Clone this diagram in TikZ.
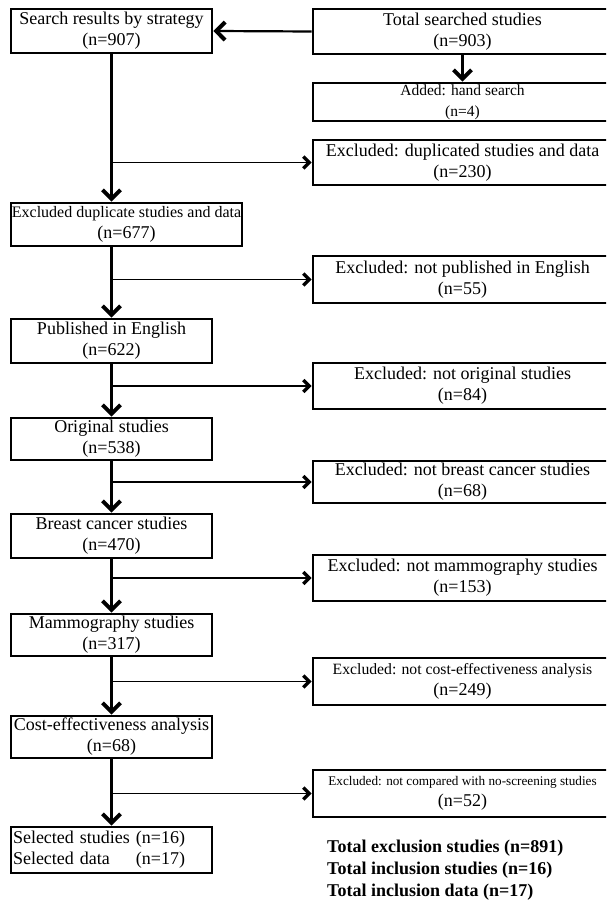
\documentclass[tikz,border=0pt]{standalone}
\usepackage{fontspec}
\setmainfont{Liberation Serif}
\usetikzlibrary{arrows.meta}
\tikzset{
  box/.style={draw, line width=2.6pt, inner sep=0pt, align=center, font=\fontsize{18}{21}\selectfont},
  lbox/.style={box, minimum width=201pt},
  rbox/.style={box, minimum width=299pt},
  mainarr/.style={line width=2.2pt, -{Straight Barb[length=9pt,width=18pt,line width=4pt 0]}},
  sidearr/.style={line width=1.6pt, -{Straight Barb[length=6pt,width=12pt,line width=3.4pt 0]}}
}
\begin{document}
\begin{tikzpicture}[x=1pt,y=-1pt]
\useasboundingbox (0,0) rectangle (606,901);
\clip (0,0) rectangle (606,901);
% left column
\node[lbox, minimum height=44pt] (s1) at (111.5,31) {Search results by strategy\\(n=907)};
\node[box, minimum width=231pt, minimum height=43pt] (s2) at (126.5,224.5) {{\fontsize{16}{21}\selectfont Excluded duplicate studies and data}\\(n=677)};
\node[lbox, minimum height=44pt] (s3) at (111.5,341) {Published in English\\(n=622)};
\node[lbox, minimum height=42pt] (s4) at (111.5,439) {Original studies\\(n=538)};
\node[lbox, minimum height=44pt] (s5) at (111.5,536) {Breast cancer studies\\(n=470)};
\node[lbox, minimum height=42pt] (s6) at (111.5,635) {Mammography studies\\(n=317)};
\node[lbox, minimum height=42pt] (s7) at (111.5,737) {Cost-effectiveness analysis\\(n=68)};
\node[lbox, minimum height=46pt, text width=197pt, align=left] (s8) at (111.5,850)
  {\begin{tabular}{@{}l@{\ }l@{}}Selected studies & (n=16)\\Selected data & (n=17)\end{tabular}};
% right column
\node[rbox, minimum height=45pt] (t1) at (462.5,31.5) {Total searched studies\\(n=903)};
\node[rbox, minimum height=38pt] (t2) at (462.5,102) {{\fontsize{15.5}{19}\selectfont Added: hand search}\\{\fontsize{15.5}{19}\selectfont (n=4)}};
\node[rbox, minimum height=45pt] (e1) at (462.5,162.5) {Excluded: duplicated studies and data\\(n=230)};
\node[rbox, minimum height=47pt] (e2) at (462.5,279.5) {Excluded: not published in English\\(n=55)};
\node[rbox, minimum height=46pt] (e3) at (462.5,386) {Excluded: not original studies\\(n=84)};
\node[rbox, minimum height=42pt] (e4) at (462.5,482) {Excluded: not breast cancer studies\\(n=68)};
\node[rbox, minimum height=46pt] (e5) at (462.5,578) {Excluded: not mammography studies\\(n=153)};
\node[rbox, minimum height=47pt] (e6) at (462.5,681.5) {{\fontsize{15.7}{21}\selectfont Excluded: not cost-effectiveness analysis}\\(n=249)};
\node[rbox, minimum height=47pt] (e7) at (462.5,793.5) {{\fontsize{13.2}{21}\selectfont Excluded: not compared with no-screening studies}\\(n=52)};
% totals
\node[anchor=west, align=left, inner sep=0pt, font=\bfseries\fontsize{18}{22}\selectfont] (tot) at (327,870)
  {Total exclusion studies (n=891)\\Total inclusion studies (n=16)\\Total inclusion data (n=17)};
% top connectors
\draw[mainarr] (t1.west) -- (s1.east);
\draw[mainarr] (t1.south) -- (t2.north);
% main column
\draw[mainarr] (s1.south) -- (s1.south |- s2.north);
\draw[mainarr] (s1.south |- s2.south) -- (s3.north);
\draw[mainarr] (s3.south) -- (s4.north);
\draw[mainarr] (s4.south) -- (s5.north);
\draw[mainarr] (s5.south) -- (s6.north);
\draw[mainarr] (s6.south) -- (s7.north);
\draw[mainarr] (s7.south) -- (s8.north);
% branches
\draw[sidearr] (s1.south |- e1.west) -- (e1.west);
\draw[sidearr] (s1.south |- e2.west) -- (e2.west);
\draw[sidearr] (s3.south |- e3.west) -- (e3.west);
\draw[sidearr] (s4.south |- e4.west) -- (e4.west);
\draw[sidearr] (s5.south |- e5.west) -- (e5.west);
\draw[sidearr] (s6.south |- e6.west) -- (e6.west);
\draw[sidearr] (s7.south |- e7.west) -- (e7.west);
\end{tikzpicture}
\end{document}
